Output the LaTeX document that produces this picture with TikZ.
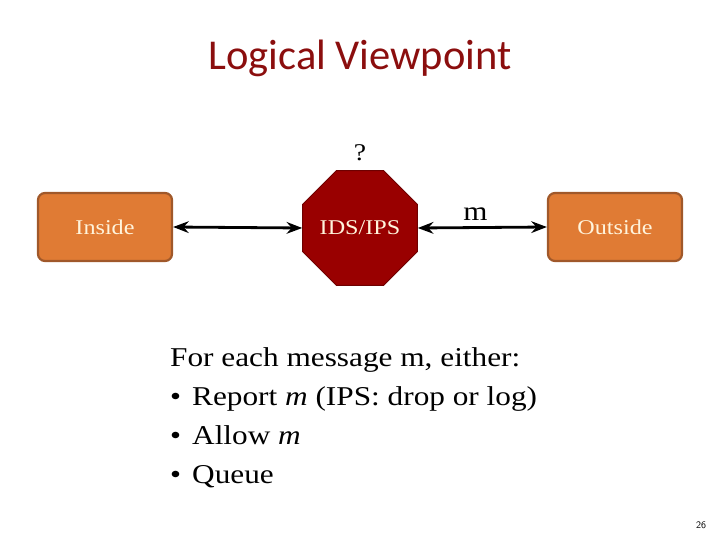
\documentclass[tikz,border=0pt]{standalone}
\usepackage{fontspec}
\setmainfont{Liberation Serif}[FakeStretch=1.15]
\newfontfamily\titlefont{Carlito}
\usepackage{xcolor}
\usepackage{tikz}
\usetikzlibrary{arrows.meta, positioning, shapes.geometric}
\definecolor{boxorange}{HTML}{E07B34}
\definecolor{boxedge}{HTML}{A0582A}
\definecolor{stopred}{HTML}{990000}
\definecolor{stopedge}{HTML}{6E0000}
\definecolor{titlered}{HTML}{8B0E0E}
\definecolor{boxtext}{HTML}{FFF4DC}

\begin{document}
\begin{tikzpicture}[x=1pt,y=-1pt,>=Stealth,
   endbox/.style={draw=boxedge,line width=2.2pt,fill=boxorange,rounded corners=7pt,
     minimum width=134pt,minimum height=68pt,text=boxtext,font=\fontsize{21}{24}\selectfont},
   stopsign/.style={regular polygon,regular polygon sides=8,draw=stopedge,line width=1pt,
     fill=stopred,minimum size=124pt,inner sep=0pt,text=boxtext,font=\fontsize{21}{24}\selectfont},
   link/.style={<->,line width=2.8pt}]
  \useasboundingbox (0,0) rectangle (720,540);
  % title
  \node[font=\titlefont\fontsize{42.5}{46}\selectfont,text=titlered] (title) at (360,58) {Logical Viewpoint};
  % parties and the filter
  \node[endbox] (inside) at (105,227) {Inside};
  \node[stopsign] (ids) at (360,228) {IDS/IPS};
  \node[endbox] (outside) at (615,227) {Outside};
  \node[font=\fontsize{24}{26}\selectfont] (q) at (360,153) {?};
  % links
  \draw[link] (inside.east) -- (ids.west);
  \draw[link] (ids.east) -- (outside.west) node[midway,above=2pt,xshift=-7pt,font=\fontsize{27}{30}\selectfont] (msg) {m};
  % cases
  \node[anchor=north west,align=left,inner sep=0pt,font=\fontsize{27.2}{39.3}\selectfont] (cases) at (170,347)
    {For each message m, either:\\
     \makebox[22pt][l]{\textbullet}Report \textit{m} (IPS: drop or log)\\
     \makebox[22pt][l]{\textbullet}Allow \textit{m}\\
     \makebox[22pt][l]{\textbullet}Queue};
  % slide number
  \node[font=\sffamily\fontsize{10}{12}\selectfont] (num) at (701,525) {26};
\end{tikzpicture}
\end{document}
